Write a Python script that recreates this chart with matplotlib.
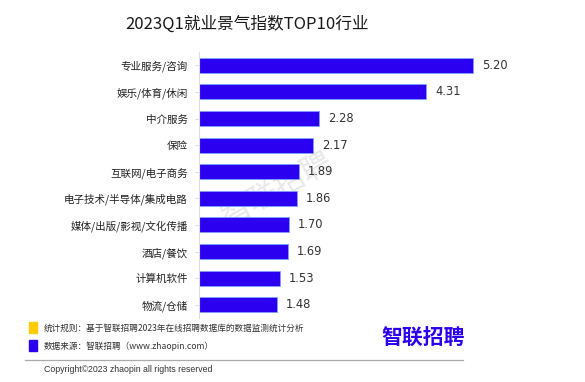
import matplotlib
matplotlib.use("Agg")
import matplotlib.pyplot as plt
from matplotlib.patches import Rectangle
from matplotlib.lines import Line2D

plt.rcParams['font.family'] = ['Noto Sans CJK SC', 'DejaVu Sans']

categories = ["专业服务/咨询", "娱乐/体育/休闲", "中介服务", "保险", "互联网/电子商务",
              "电子技术/半导体/集成电路", "媒体/出版/影视/文化传播", "酒店/餐饮", "计算机软件", "物流/仓储"]
values = [5.20, 4.31, 2.28, 2.17, 1.89, 1.86, 1.70, 1.69, 1.53, 1.48]
value_labels = ["5.20", "4.31", "2.28", "2.17", "1.89", "1.86", "1.70", "1.69", "1.53", "1.48"]

title = "2023Q1就业景气指数TOP10行业"
note1 = "统计规则：基于智联招聘2023年在线招聘数据库的数据监测统计分析"
note2 = "数据来源：智联招聘（www.zhaopin.com）"
copyright_text = "Copyright©2023 zhaopin all rights reserved"
logo = "智联招聘"

BLUE = "#2B00F0"
YELLOW = "#FFCC00"

W, H = 585, 382
fig = plt.figure(figsize=(W / 100, H / 100), dpi=100)
fig.patch.set_facecolor("white")

def fx(px):
    return px / W

def fy(py):
    return 1 - py / H

ax = fig.add_axes([fx(199), fy(318), fx(545) - fx(199), fy(52) - fy(318)])
ax.set_facecolor("none")
ypos = list(range(len(categories)))
ax.barh(ypos, values, height=0.57, color=BLUE, edgecolor="#7FA0FF", linewidth=0.6)
ax.set_ylim(len(categories) - 0.5, -0.5)
ax.set_xlim(0, (545 - 199) / 52.7)
ax.set_yticks(ypos)
ax.set_yticklabels(categories, fontsize=7.6, color="#222222")
ax.tick_params(axis="y", length=3, color="#DDDDDD", pad=5)
ax.set_xticks([])
for s in ["top", "right", "bottom"]:
    ax.spines[s].set_visible(False)
ax.spines["left"].set_color("#DDDDDD")
ax.spines["left"].set_linewidth(0.8)
for y, v, lab in zip(ypos, values, value_labels):
    ax.text(v + 0.17, y, lab, va="center", ha="left", fontsize=8.3, color="#333333",
            family=["DejaVu Sans"])

# title
fig.text(fx(247), fy(24), title, ha="center", va="center", fontsize=12, color="#1a1a1a",
         fontweight="medium")

# watermark (behind the bars)
fig.text(fx(278), fy(190), logo, ha="center", va="center", fontsize=22, color="#E8E8E8",
         rotation=29, zorder=-1, fontweight="light")

# legend notes
fig.patches.append(Rectangle((fx(29), fy(333)), fx(8), fy(322) - fy(333), transform=fig.transFigure,
                             color=YELLOW, figure=fig))
fig.patches.append(Rectangle((fx(29), fy(351)), fx(8), fy(340) - fy(351), transform=fig.transFigure,
                             color=BLUE, figure=fig))
fig.text(fx(44), fy(328), note1, ha="left", va="center", fontsize=6.2, color="#333333")
fig.text(fx(44), fy(346), note2, ha="left", va="center", fontsize=6.2, color="#333333")

# logo
fig.text(fx(423), fy(338), logo, ha="center", va="center", fontsize=15, color=BLUE,
         fontweight="bold")

# separator line
fig.lines.append(Line2D([fx(25), fx(463)], [fy(360), fy(360)], transform=fig.transFigure,
                        color="#AAAAAA", linewidth=0.9))
fig.text(fx(44), fy(370), copyright_text, ha="left", va="center", fontsize=6.3, color="#333333",
         family=["Liberation Sans", "DejaVu Sans"])

fig.savefig("out.png", dpi=100, facecolor="white")
